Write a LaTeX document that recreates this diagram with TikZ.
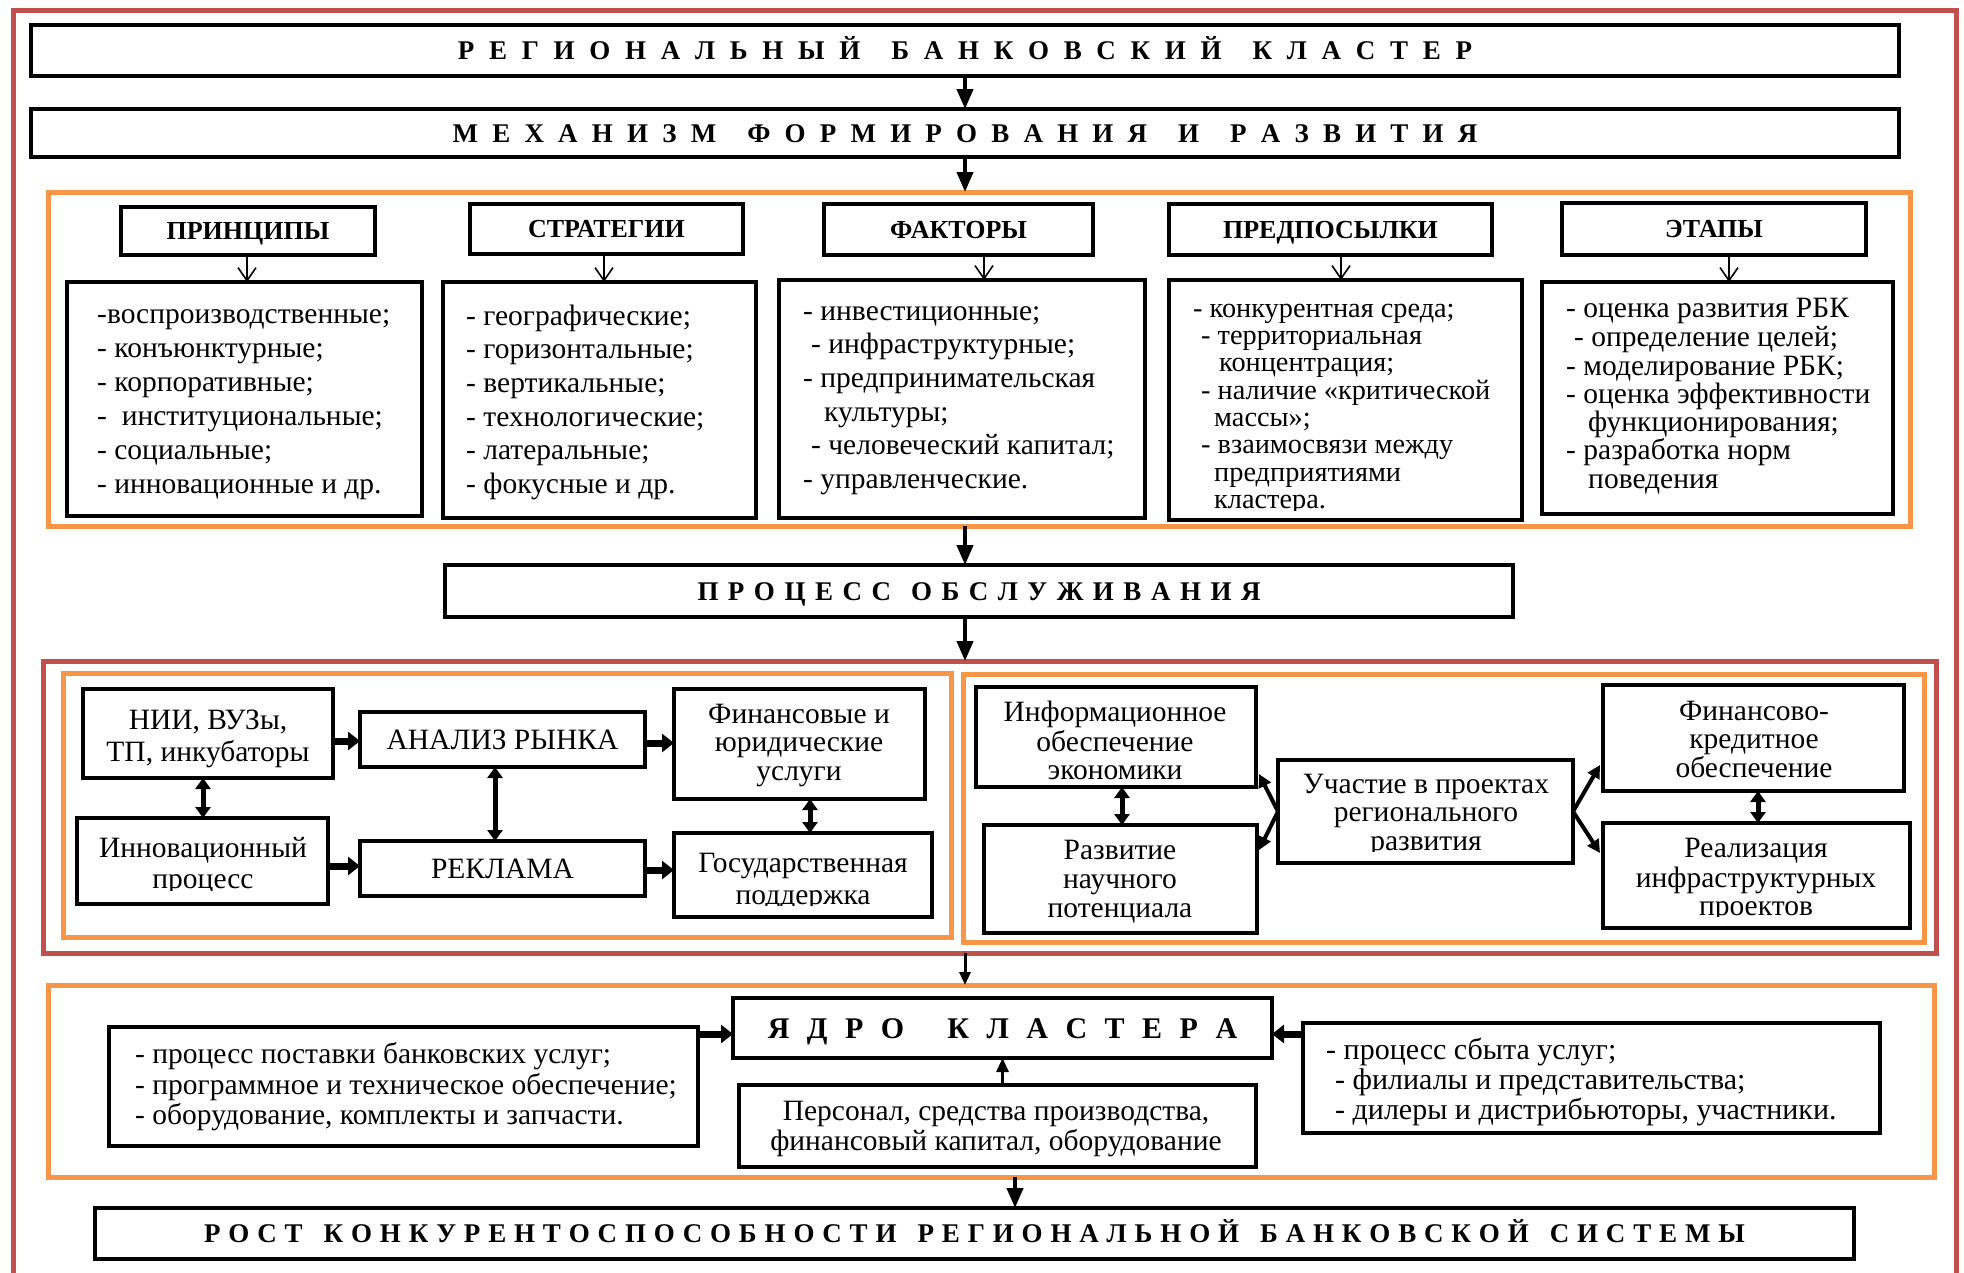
\documentclass[tikz,border=0pt]{standalone}
\usepackage{fontspec}
\setmainfont{Liberation Serif}
\usetikzlibrary{arrows.meta,calc}
\definecolor{orng}{HTML}{F79646}
\definecolor{redf}{HTML}{C0504D}
\newlength\lsp
\def\swx#1{\ifx\relax#1\else#1\hskip\lsp\relax\expandafter\swx\fi}
\newcommand\sw[1]{\swx#1\relax\unskip}
\begin{document}
\begin{tikzpicture}[x=1pt, y=-1pt,
  box/.style={draw=black, line width=4.5pt, inner sep=0pt, outer sep=0pt},
  frameO/.style={draw=orng, line width=5pt, inner sep=0pt, outer sep=0pt},
  frameR/.style={draw=redf, line width=5pt, inner sep=0pt, outer sep=0pt},
  ttl/.style={font=\bfseries\fontsize{27}{30}\selectfont, text height=18pt, text depth=0pt},
  hdr/.style={font=\bfseries\fontsize{26}{28}\selectfont, text height=17pt, text depth=0pt},
  one/.style={font=\fontsize{29.5}{30}\selectfont, text height=19.5pt, text depth=0pt},
  lst/.style={inner sep=0pt, anchor=north west, align=left},
  ctx/.style={inner sep=0pt, anchor=north, align=center},
  bigarr/.style={line width=4pt, -{Triangle[length=20pt,width=16pt]}},
  midarr/.style={line width=3pt, -{Triangle[length=13pt,width=11pt]}},
  thinarr/.style={line width=1.6pt, -{Straight Barb[length=13pt,width=18pt]}},
  fatarr/.style={line width=7pt, -{Triangle[length=12pt,width=18pt]}},
  dblarr/.style={line width=5pt, {Triangle[length=11pt,width=15pt]}-{Triangle[length=11pt,width=15pt]}},
  diagarr/.style={line width=4pt, -{Triangle[length=13pt,width=13pt]}}
]
\useasboundingbox (0,0) rectangle (1964,1272);
\fill[white] (0,0) rectangle (1964,1272);
% outer red frame
\draw[redf, line width=5pt] (13,1280) -- (13,10) -- (1956,10) -- (1956,1280);

% coordinates for connector positions
\coordinate (mx) at (965,0);
\coordinate (mx2) at (1015,0);
\coordinate (a1) at (247,0);
\coordinate (a2) at (604,0);
\coordinate (a3) at (984,0);
\coordinate (a4) at (1341,0);
\coordinate (a5) at (1729,0);

% title boxes
\node[box, ttl, minimum width=1868, minimum height=51] (T1) at (965,50.5)
  {\setlength\lsp{14.7pt}\sw{РЕГИОНАЛЬНЫЙ}\hskip31pt\sw{БАНКОВСКИЙ}\hskip31pt\sw{КЛАСТЕР}};
\node[box, ttl, minimum width=1868, minimum height=48] (T2) at (965,133)
  {\setlength\lsp{14.2pt}\sw{МЕХАНИЗМ}\hskip31pt\sw{ФОРМИРОВАНИЯ}\hskip31pt\sw{И}\hskip31pt\sw{РАЗВИТИЯ}};

% top orange block
\node[frameO, minimum width=1862, minimum height=334] (O1) at (979,359) {};
\node[box, hdr, minimum width=254, minimum height=48] (H1) at (248,231) {ПРИНЦИПЫ};
\node[box, hdr, minimum width=273, minimum height=50] (H2) at (606.5,229) {СТРАТЕГИИ};
\node[box, hdr, minimum width=269, minimum height=51] (H3) at (958.5,229.5) {ФАКТОРЫ};
\node[box, hdr, minimum width=323, minimum height=51] (H4) at (1330.5,229.5) {ПРЕДПОСЫЛКИ};
\node[box, hdr, minimum width=304, minimum height=52] (H5) at (1714,229) {ЭТАПЫ};

\node[box, minimum width=355, minimum height=234] (C1) at (244.5,399) {};
\node[box, minimum width=313, minimum height=236] (C2) at (599.5,400) {};
\node[box, minimum width=366, minimum height=238] (C3) at (962,399) {};
\node[box, minimum width=353, minimum height=240] (C4) at (1345.5,400) {};
\node[box, minimum width=351, minimum height=232] (C5) at (1717.5,398) {};

\node[lst, font=\fontsize{29.5}{34}\selectfont] (C1t) at (97,299)
  {\strut-воспроизводственные;\\- конъюнктурные;\\- корпоративные;\\-\hspace{0.5em}институциональные;\\- социальные;\\- инновационные и др.};
\node[lst, font=\fontsize{29.5}{33.6}\selectfont] (C2t) at (466,301.5)
  {\strut- географические;\\- горизонтальные;\\- вертикальные;\\- технологические;\\- латеральные;\\- фокусные и др.};
\node[lst, font=\fontsize{29.5}{33.6}\selectfont] (C3t) at (803,296.5)
  {\strut- инвестиционные;\\\hspace*{8pt}- инфраструктурные;\\- предпринимательская\\\hspace*{21pt}культуры;\\\hspace*{8pt}- человеческий капитал;\\- управленческие.};
\begin{scope}
\clip (1171,282) rectangle (1520,510);
\node[lst, font=\fontsize{28.3}{27.3}\selectfont] (C4t) at (1193,298)
  {\strut- конкурентная среда;\\\hspace*{8pt}- территориальная\\\hspace*{26pt}концентрация;\\\hspace*{8pt}- наличие «критической\\\hspace*{21pt}массы»;\\\hspace*{8pt}- взаимосвязи между\\\hspace*{21pt}предприятиями\\\hspace*{21pt}кластера.};
\end{scope}
\node[lst, font=\fontsize{29.5}{28.3}\selectfont] (C5t) at (1566,297)
  {\strut- оценка развития РБК\\\hspace*{8pt}- определение целей;\\- моделирование РБК;\\- оценка эффективности\\\hspace*{22pt}функционирования;\\- разработка норм\\\hspace*{22pt}поведения};

% process box
\node[box, ttl, minimum width=1068, minimum height=52] (P) at (979,591)
  {\setlength\lsp{9.5pt}\sw{ПРОЦЕСС}\hskip20pt\sw{ОБСЛУЖИВАНИЯ}};

% middle red block
\node[frameR, minimum width=1893, minimum height=292] (R2) at (989.5,807) {};
\node[frameO, minimum width=888, minimum height=264] (OL) at (507,805) {};
\node[frameO, minimum width=961, minimum height=268] (OR) at (1443.5,808) {};

\node[box, minimum width=250, minimum height=89] (N1) at (208,733.5) {};
\node[box, one, minimum width=285, minimum height=55] (A) at (502.5,739.5) {АНАЛИЗ РЫНКА};
\node[box, minimum width=251, minimum height=110] (F) at (799.5,744) {};
\node[box, minimum width=251, minimum height=86] (I) at (202.5,861) {};
\node[box, one, minimum width=285, minimum height=55] (R) at (502.5,868.5) {РЕКЛАМА};
\node[box, minimum width=258, minimum height=84] (G) at (803,875) {};

\node[ctx, font=\fontsize{29.5}{32}\selectfont] (N1t) at (208,706.6) {\strut НИИ, ВУЗы,\\ТП, инкубаторы};
\node[ctx, font=\fontsize{29.5}{28.5}\selectfont] (Ft) at (799,703) {\strut Финансовые и\\юридические\\услуги};
\begin{scope}
\clip (80,820) rectangle (326,890);
\node[ctx, font=\fontsize{29.5}{31}\selectfont] (It) at (203,835.3) {\strut Инновационный\\процесс};
\end{scope}
\begin{scope}
\clip (676,835) rectangle (930,905);
\node[ctx, font=\fontsize{29.5}{32}\selectfont] (Gt) at (803,849.6) {\strut Государственная\\поддержка};
\end{scope}

\node[box, minimum width=280, minimum height=100] (IE) at (1116,737) {};
\node[box, minimum width=273, minimum height=108] (RN) at (1120.5,879) {};
\node[box, minimum width=295, minimum height=103] (U) at (1425.5,811.5) {};
\node[box, minimum width=301, minimum height=106] (FK) at (1753.5,738) {};
\node[box, minimum width=307, minimum height=105] (RI) at (1756.5,875.5) {};

\node[ctx, font=\fontsize{29.5}{27.5}\selectfont] (IEt) at (1115,700.75) {\strut Информационное\\обеспечение\\экономики};
\node[ctx, font=\fontsize{29.5}{29}\selectfont] (RNt) at (1120,838.7) {\strut Развитие\\научного\\потенциала};
\begin{scope}
\clip (1280,762) rectangle (1571,851);
\node[ctx, font=\fontsize{29.5}{28.5}\selectfont] (Ut) at (1426,773) {\strut Участие в проектах\\регионального\\развития};
\end{scope}
\node[ctx, font=\fontsize{29.5}{28.5}\selectfont] (FKt) at (1754,700) {\strut Финансово-\\кредитное\\обеспечение};
\begin{scope}
\clip (1605,825) rectangle (1908,916);
\node[ctx, font=\fontsize{29.5}{28.5}\selectfont] (RIt) at (1756,837) {\strut Реализация\\инфраструктурных\\проектов};
\end{scope}

% bottom orange block
\node[frameO, minimum width=1886, minimum height=192] (O3) at (991,1081) {};
\node[box, font=\bfseries\fontsize{30}{32}\selectfont, text height=20pt, text depth=0pt, minimum width=539, minimum height=60] (Ya) at (1002.5,1028)
  {\setlength\lsp{17.5pt}\sw{ЯДРО}\hskip43pt\sw{КЛАСТЕРА}};
\node[box, minimum width=589, minimum height=119] (LL) at (403.5,1086.5) {};
\node[box, minimum width=517, minimum height=82] (PS) at (997.5,1126) {};
\node[box, minimum width=577, minimum height=110] (RL) at (1591.5,1078) {};
\node[lst, font=\fontsize{29.5}{30}\selectfont] (LLt) at (135,1042)
  {\strut- процесс поставки банковских услуг;\\- программное и техническое обеспечение;\\- оборудование, комплекты и запчасти.};
\node[ctx, font=\fontsize{29.5}{28}\selectfont] (PSt) at (996,1100.4)
  {\strut Персонал, средства производства,\\финансовый капитал, оборудование};
\node[lst, font=\fontsize{30}{29.5}\selectfont] (RLt) at (1326,1037.4)
  {\strut- процесс сбыта услуг;\\\hspace*{9pt}- филиалы и представительства;\\\hspace*{9pt}- дилеры и дистрибьюторы, участники.};

\node[box, ttl, minimum width=1759, minimum height=51] (ROST) at (974.5,1233.5)
  {\setlength\lsp{7.85pt}\sw{РОСТ}\hskip21pt\sw{КОНКУРЕНТОСПОСОБНОСТИ}\hskip21pt\sw{РЕГИОНАЛЬНОЙ}\hskip21pt\sw{БАНКОВСКОЙ}\hskip21pt\sw{СИСТЕМЫ}};

% main vertical connectors
\draw[bigarr] (T1.south) -- (T2.north);
\draw[bigarr] (T2.south) -- (T2.south |- O1.north);
\draw[bigarr] (O1.south -| mx) -- (P.north -| mx);
\draw[bigarr] (P.south -| mx) -- (R2.north -| mx);
\draw[midarr] (R2.south -| mx) -- (O3.north -| mx);
\draw[bigarr] (O3.south -| mx2) -- (ROST.north -| mx2);

% header arrows
\draw[thinarr] (H1.south -| a1) -- (C1.north -| a1);
\draw[thinarr] (H2.south -| a2) -- (C2.north -| a2);
\draw[thinarr] (H3.south -| a3) -- (C3.north -| a3);
\draw[thinarr] (H4.south -| a4) -- (C4.north -| a4);
\draw[thinarr] (H5.south -| a5) -- (C5.north -| a5);

% left middle connectors
\coordinate (y1) at (0,741);
\coordinate (y2) at (0,743);
\coordinate (y3) at (0,866);
\coordinate (y4) at (0,870);
\coordinate (x1) at (203,0);
\coordinate (x2) at (495,0);
\coordinate (x3) at (810,0);
\draw[fatarr] (N1.east |- y1) -- (A.west |- y1);
\draw[fatarr] (A.east |- y2) -- (F.west |- y2);
\draw[fatarr] (I.east |- y3) -- (R.west |- y3);
\draw[fatarr] (R.east |- y4) -- (G.west |- y4);
\draw[dblarr] (N1.south -| x1) -- (I.north -| x1);
\draw[dblarr] (A.south -| x2) -- (R.north -| x2);
\draw[dblarr] (F.south -| x3) -- (G.north -| x3);

% right middle connectors
\coordinate (x4) at (1122,0);
\coordinate (x5) at (1758,0);
\draw[dblarr] (IE.south -| x4) -- (RN.north -| x4);
\draw[dblarr] (FK.south -| x5) -- (RI.north -| x5);
\draw[diagarr] (U.west) -- ($(IE.south east)+(3,-13)$);
\draw[diagarr] (U.west) -- ($(RN.north east)+(2,25)$);
\draw[diagarr] (U.east) -- ($(FK.south west)+(-3,-26)$);
\draw[diagarr] (U.east) -- ($(RI.north west)+(-3,30)$);

% bottom connectors
\coordinate (yy) at (0,1034);
\draw[fatarr] (LL.east |- yy) -- (Ya.west |- yy);
\draw[fatarr] (RL.west |- yy) -- (Ya.east |- yy);
\draw[line width=3pt, -{Triangle[length=14pt,width=12pt]}] (PS.north -| Ya.south) -- (Ya.south);
\end{tikzpicture}
\end{document}
